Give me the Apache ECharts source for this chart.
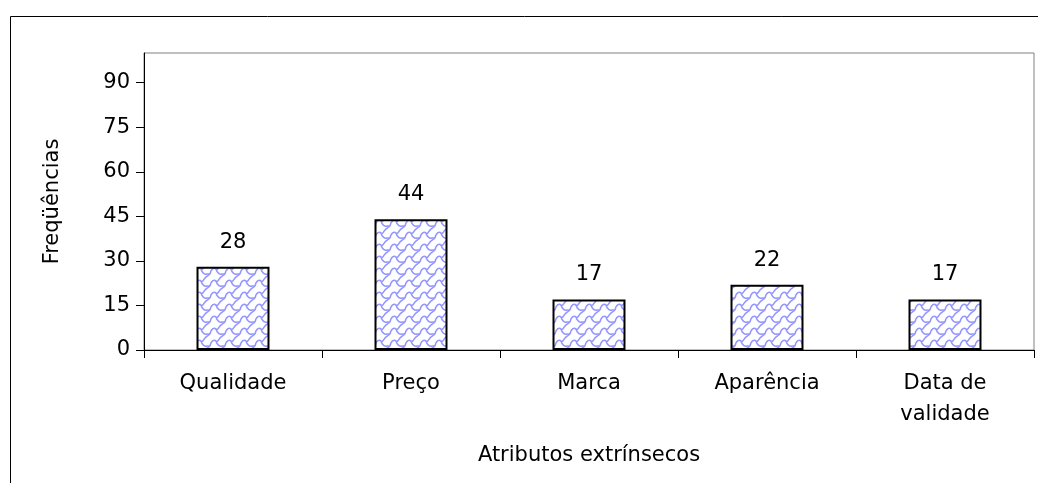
<!DOCTYPE html>
<html><head><meta charset="utf-8">
<script src="https://cdn.jsdelivr.net/npm/echarts@6/dist/echarts.min.js"></script>
<style>html,body{margin:0;padding:0;background:#fff}#c{width:1038px;height:483px}</style>
</head><body><div id="c"></div>
<script>
const categories = ['Qualidade', 'Preço', 'Marca', 'Aparência', 'Data de\nvalidade'];
const values = [28, 44, 17, 22, 17];
const yTicks = [0, 15, 30, 45, 60, 75, 90];

function makePattern() {
  const w = 15, h = 12;
  const c = document.createElement('canvas');
  c.width = w; c.height = h;
  const g = c.getContext('2d');
  g.fillStyle = '#ffffff'; g.fillRect(0, 0, w, h);
  g.strokeStyle = '#9496ff'; g.lineWidth = 1.5;
  for (let dx = -w; dx <= w; dx += w) {
    for (let dy = -h; dy <= h; dy += h) {
      g.beginPath();
      g.moveTo(dx + 0, dy + 10);
      g.bezierCurveTo(dx + 1, dy + 5, dx + 4, dy + 3, dx + 6, dy + 5);
      g.bezierCurveTo(dx + 8, dy + 7, dx + 9, dy + 2, dx + 11, dy + 1);
      g.lineTo(dx + 15, dy - 2);
      g.stroke();
      g.beginPath();
      g.moveTo(dx + 6, dy + 5);
      g.bezierCurveTo(dx + 7, dy + 9, dx + 10, dy + 11, dx + 12, dy + 10);
      g.lineTo(dx + 15, dy + 10);
      g.stroke();
    }
  }
  return c;
}

const chart = echarts.init(document.getElementById('c'), null, {renderer: 'canvas'});
const font = 'DejaVu Sans, Arial, sans-serif';
chart.setOption({
  animation: false,
  graphic: [{
    type: 'rect', shape: {x: 10.5, y: 16.5, width: 1100, height: 600},
    style: {fill: 'none', stroke: '#000', lineWidth: 1}, z: -1
  }],
  grid: {left: 144, right: 4, top: 53, bottom: 133, show: true, borderColor: '#808080', borderWidth: 1},
  xAxis: {
    type: 'category', data: categories,
    name: 'Atributos extrínsecos', nameLocation: 'middle', nameGap: 95,
    nameTextStyle: {fontFamily: font, fontSize: 21, color: '#000'},
    axisLine: {lineStyle: {color: '#000', width: 1}},
    axisTick: {show: true, length: 8, lineStyle: {color: '#000'}},
    axisLabel: {fontFamily: font, fontSize: 21, color: '#000', margin: 18, lineHeight: 31, verticalAlign: 'top'}
  },
  yAxis: {
    type: 'value', min: 0, max: 100, interval: 15,
    name: 'Freqüências', nameLocation: 'middle', nameGap: 81,
    nameTextStyle: {fontFamily: font, fontSize: 21, color: '#000'},
    axisLine: {show: true, lineStyle: {color: '#000', width: 1}},
    axisTick: {show: true, length: 8, lineStyle: {color: '#000'}, customValues: yTicks},
    axisLabel: {fontFamily: font, fontSize: 21, color: '#000', margin: 14, customValues: yTicks},
    splitLine: {show: false}
  },
  series: [{
    type: 'bar', data: values, barWidth: '41%',
    itemStyle: {color: {image: makePattern(), repeat: 'repeat'}, borderColor: '#000', borderWidth: 2},
    label: {show: true, position: 'top', distance: 14, fontFamily: font, fontSize: 21, color: '#000'}
  }]
});
</script></body></html>
